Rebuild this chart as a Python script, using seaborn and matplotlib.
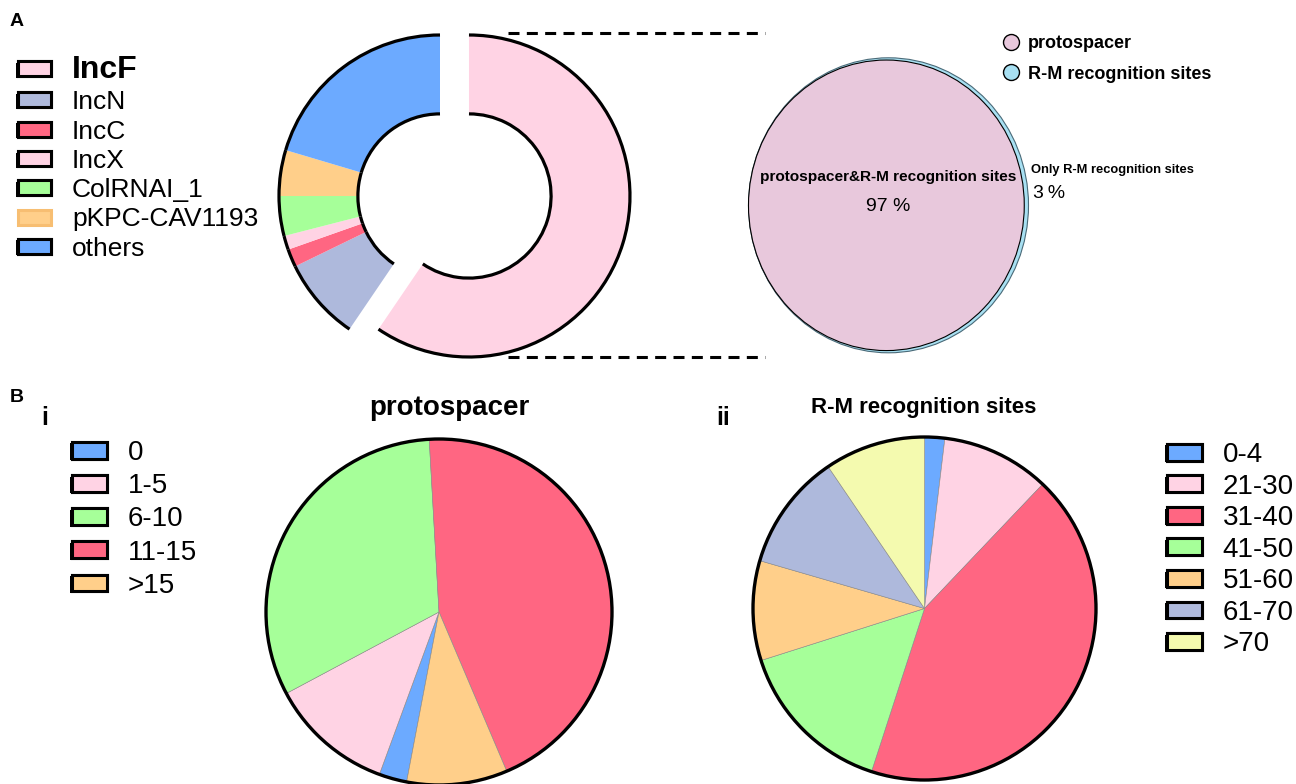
import matplotlib
matplotlib.use("Agg")
import matplotlib.pyplot as plt
import matplotlib.patheffects as pe
import seaborn as sns
from matplotlib.patches import Patch, Arc, Circle
from matplotlib.lines import Line2D

# ---------------------------------------------------------------
# DATA (shares, %)
# ---------------------------------------------------------------
INC_LABELS = ["IncF", "IncN", "IncC", "IncX", "ColRNAI_1", "pKPC-CAV1193", "others"]
INC_SHARE = [59.5, 8.3, 1.8, 1.4, 4.0, 4.6, 20.4]

OVERLAP_LABELS = ["protospacer&R-M recognition sites", "Only R-M recognition sites"]
OVERLAP_SHARE = [97, 3]
SET_LABELS = ["protospacer", "R-M recognition sites"]

PROTO_LABELS = ["0", "1-5", "6-10", "11-15", ">15"]
PROTO_SHARE = [2.6, 11.6, 31.9, 44.5, 9.4]

RM_LABELS = ["0-4", "21-30", "31-40", "41-50", "51-60", "61-70", ">70"]
RM_SHARE = [1.9, 10.2, 42.9, 15.1, 9.4, 11.0, 9.5]

# colours
PINK, SLATE, RED = "#FFD3E4", "#AEB9DC", "#FF6682"
GREEN, ORANGE, BLUE, YELLOW = "#A6FF99", "#FFCF8A", "#6CAAFF", "#F4FAAF"
INC_COLORS = [PINK, SLATE, RED, PINK, GREEN, ORANGE, BLUE]
SET_COLORS = ["#E8C8DC", "#A8E0F2"]
PROTO_COLORS = [BLUE, PINK, GREEN, RED, ORANGE]
RM_COLORS = [BLUE, PINK, RED, GREEN, ORANGE, SLATE, YELLOW]

# ---------------------------------------------------------------
# STYLE
# ---------------------------------------------------------------
sns.set_theme(style="white")
plt.rcParams["font.family"] = ["Liberation Sans", "DejaVu Sans"]
plt.rcParams["text.color"] = "black"

W, H = 1296, 784
fig = plt.figure(figsize=(W / 100, H / 100), dpi=100)


def fx(x):
    return x / W


def fy(y):
    return 1 - y / H


def pie_axes(cx, cy, rx, ry=None, pad=1.0):
    ry = rx if ry is None else ry
    ax = fig.add_axes([fx(cx - rx * pad), fy(cy + ry * pad),
                       2 * rx * pad / W, 2 * ry * pad / H])
    ax.set_axis_off()
    return ax


def fix_limits(ax, pad=1.0, aspect="equal"):
    ax.set_xlim(-pad, pad)
    ax.set_ylim(-pad, pad)
    ax.set_aspect(aspect)
    for p in ax.patches:
        p.set_clip_on(False)


shadow = [pe.withSimplePatchShadow(offset=(-1.2, -1.2), shadow_rgbFace="black", alpha=1),
          pe.Normal()]


def box_handles(colors, edges=None):
    edges = edges or ["black"] * len(colors)
    return [Patch(facecolor=c, edgecolor=e, linewidth=2.2,
                  path_effects=shadow if e == "black" else None)
            for c, e in zip(colors, edges)]


# ---------------------------------------------------------------
# A: donut of replicon types
# ---------------------------------------------------------------
PAD = 1.3
ax_d = pie_axes(440, 196, 161, pad=PAD)
width = 0.49
wedges, _ = ax_d.pie(INC_SHARE, colors=INC_COLORS, startangle=90, counterclock=False,
                     wedgeprops=dict(width=width, linewidth=0))
# pull the dominant IncF slice out sideways
wedges[0].set_center((0.18, 0.0))
for w in wedges:
    for r in (w.r, w.r - width):
        ax_d.add_patch(Arc(w.center, 2 * r, 2 * r, theta1=w.theta1, theta2=w.theta2,
                           color="black", lw=2.3))
fix_limits(ax_d, PAD)

edges_a = ["black"] * len(INC_LABELS)
edges_a[5] = "#F7BE72"
leg_a = fig.legend(handles=box_handles(INC_COLORS, edges_a), labels=INC_LABELS,
                   loc="upper left", bbox_to_anchor=(fx(18), fy(55)), frameon=False,
                   fontsize=19, handlelength=1.25, handleheight=0.5,
                   handletextpad=0.8, labelspacing=0.2, borderpad=0, borderaxespad=0)
leg_a.get_texts()[0].set_fontweight("bold")
leg_a.get_texts()[0].set_fontsize(23)

# dashed connectors
for y in (33, 357):
    fig.add_artist(Line2D([fx(508), fx(765)], [fy(y), fy(y)], transform=fig.transFigure,
                          color="black", lw=2.2, linestyle=(0, (3.6, 2.4))))

# A: overlap of the two target sets
ax_o = pie_axes(888.5, 205.3, 140, 147.5)
r_outer = 1.0
r_inner = (OVERLAP_SHARE[0] / sum(OVERLAP_SHARE)) ** 0.5
ax_o.add_patch(Circle((0, 0), r_outer, facecolor=SET_COLORS[1], edgecolor="#4A6A78", lw=0.8))
ax_o.add_patch(Circle((-(r_outer - r_inner), 0), r_inner, facecolor=SET_COLORS[0],
                      edgecolor="black", lw=0.8))
fix_limits(ax_o, 1.0, aspect="auto")

fig.text(fx(888), fy(177), OVERLAP_LABELS[0], ha="center", va="center",
         fontsize=11.1, fontweight="bold")
fig.text(fx(888), fy(207), f"{OVERLAP_SHARE[0]} %", ha="center", va="center", fontsize=14)
fig.text(fx(1031), fy(170), OVERLAP_LABELS[1], ha="left", va="center",
         fontsize=9.3, fontweight="bold")
fig.text(fx(1033), fy(193), f"{OVERLAP_SHARE[1]}\u2009%", ha="left", va="center", fontsize=14)

set_handles = [Line2D([], [], ls="", marker="o", markersize=11.5, markerfacecolor=c,
                      markeredgecolor="black", markeredgewidth=1.0) for c in SET_COLORS]
fig.legend(handles=set_handles, labels=SET_LABELS, loc="upper left",
           bbox_to_anchor=(fx(1002), fy(35)), frameon=False,
           prop=dict(size=13, weight="bold"), handlelength=1.0, handletextpad=0.45,
           labelspacing=0.75, borderpad=0, borderaxespad=0)

# ---------------------------------------------------------------
# B i: protospacer counts
# ---------------------------------------------------------------
ax_p = pie_axes(439, 612, 173)
ax_p.pie(PROTO_SHARE, colors=PROTO_COLORS, startangle=-100.8, counterclock=False,
         wedgeprops=dict(linewidth=0.4, edgecolor="#888888"))
ax_p.add_patch(Circle((0, 0), 1, fill=False, edgecolor="black", lw=2.4))
fix_limits(ax_p)
fig.text(fx(449), fy(408), "protospacer", ha="center", va="center",
         fontsize=20, fontweight="bold")

fig.legend(handles=box_handles(PROTO_COLORS), labels=PROTO_LABELS, loc="upper left",
           bbox_to_anchor=(fx(72), fy(440)), frameon=False, fontsize=20,
           handlelength=1.26, handleheight=0.55, handletextpad=0.75, labelspacing=0.26,
           borderpad=0, borderaxespad=0)

# B ii: R-M recognition site counts
ax_r = pie_axes(924.5, 608.5, 171.5)
ax_r.pie(RM_SHARE, colors=RM_COLORS, startangle=90, counterclock=False,
         wedgeprops=dict(linewidth=0.4, edgecolor="#888888"))
ax_r.add_patch(Circle((0, 0), 1, fill=False, edgecolor="black", lw=2.4))
fix_limits(ax_r)
fig.text(fx(924), fy(408), "R-M recognition sites", ha="center", va="center",
         fontsize=16, fontweight="bold")

fig.legend(handles=box_handles(RM_COLORS), labels=RM_LABELS, loc="upper left",
           bbox_to_anchor=(fx(1167), fy(442)), frameon=False, fontsize=20,
           handlelength=1.25, handleheight=0.55, handletextpad=0.75, labelspacing=0.2,
           borderpad=0, borderaxespad=0)

# panel tags
fig.text(fx(10), fy(22), "A", fontsize=14, fontweight="bold", va="center")
fig.text(fx(10), fy(398), "B", fontsize=14, fontweight="bold", va="center")
fig.text(fx(41), fy(418), "i", fontsize=18, fontweight="bold", va="center")
fig.text(fx(716), fy(418), "ii", fontsize=18, fontweight="bold", va="center")

fig.savefig("out.png", dpi=100)
